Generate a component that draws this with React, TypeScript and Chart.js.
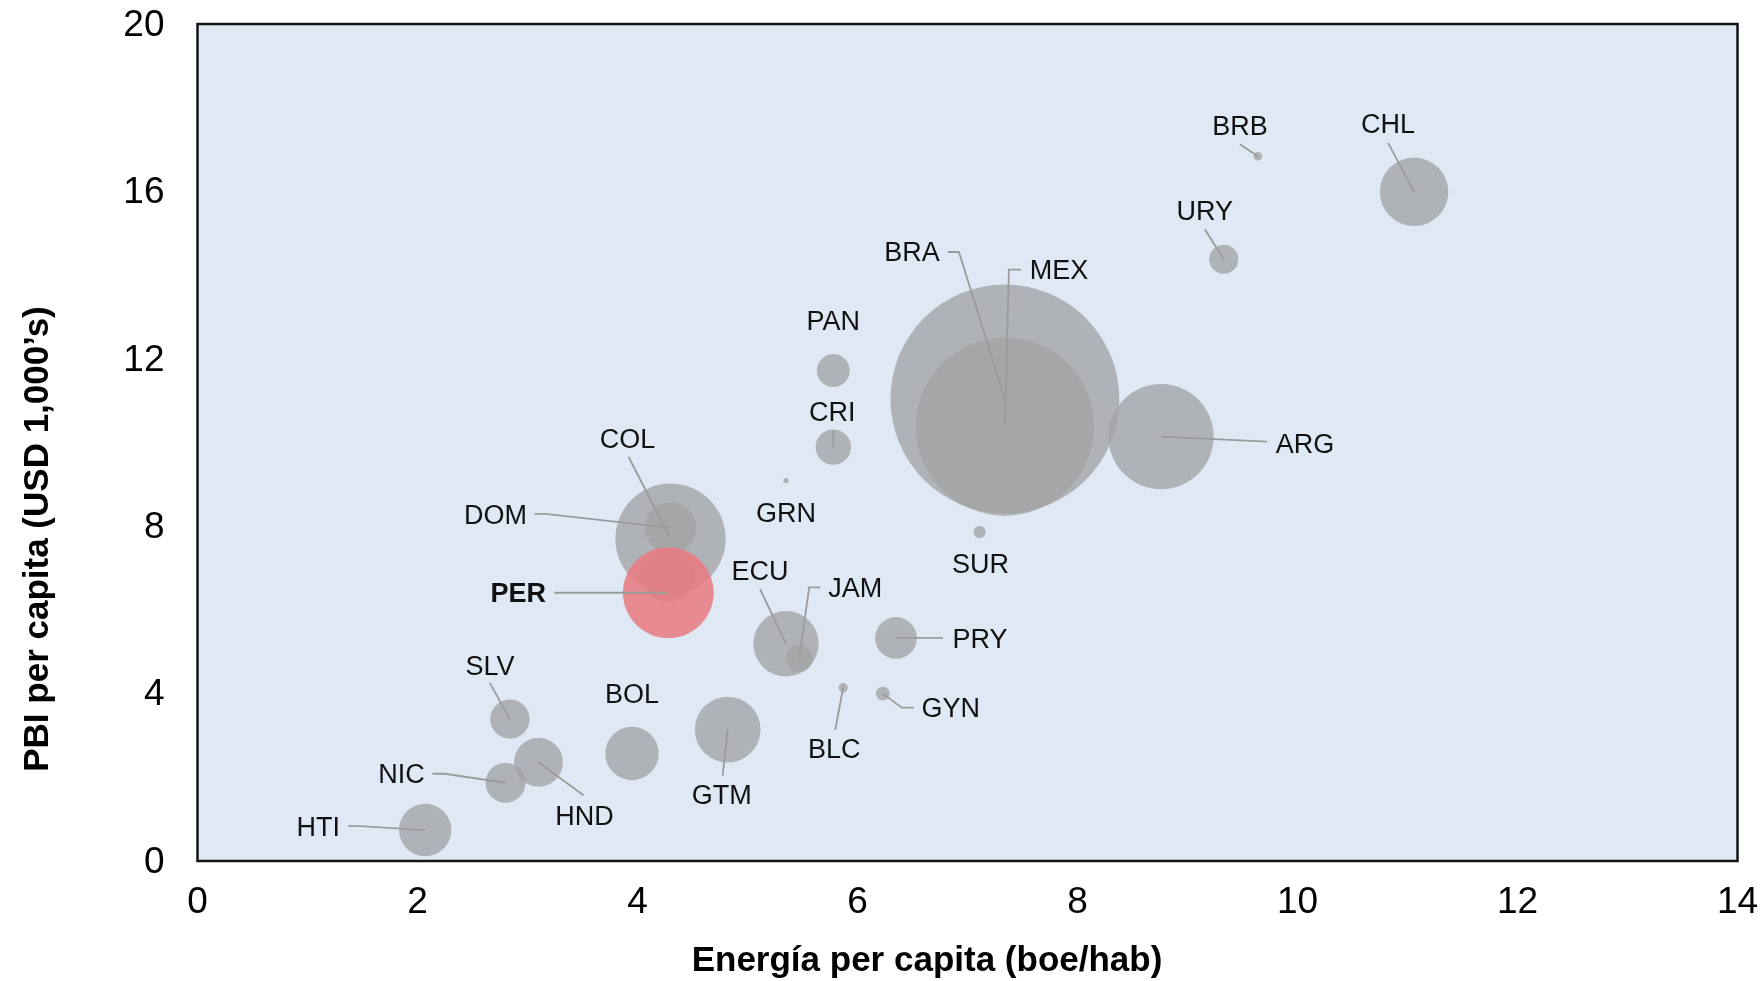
import React, { useEffect, useRef } from 'react';
import { Chart, registerables } from 'chart.js';

Chart.register(...registerables);

// ---- Data ----
const countries = ['BRA', 'MEX', 'ARG', 'COL', 'DOM', 'CUB', 'CHL', 'URY', 'BRB', 'PAN', 'CRI', 'GRN', 'SUR', 'ECU', 'JAM', 'PRY', 'BLC', 'GYN', 'GTM', 'BOL', 'SLV', 'HND', 'NIC', 'HTI', 'PER'];
const energyPerCapita = [7.34, 7.34, 8.76, 4.30, 4.30, 4.28, 11.06, 9.33, 9.64, 5.78, 5.78, 5.35, 7.11, 5.35, 5.47, 6.35, 5.87, 6.23, 4.82, 3.95, 2.84, 3.10, 2.80, 2.07, 4.28];
const gdpPerCapita = [11.04, 10.38, 10.14, 7.70, 7.96, 6.81, 15.99, 14.38, 16.84, 11.72, 9.89, 9.09, 7.86, 5.19, 4.84, 5.33, 4.14, 4.00, 3.14, 2.57, 3.39, 2.36, 1.87, 0.74, 6.41];
const populationMillions = [213, 129, 45, 49.5, 10.7, 11.2, 19.1, 3.45, 0.3, 4.4, 5.1, 0.11, 0.62, 17.4, 2.9, 7.1, 0.35, 0.79, 17.6, 11.6, 6.3, 9.7, 6.5, 11.2, 33.5];
const unlabeled = ['CUB'];
const highlighted = 'PER';
const xTickValues = [0, 2, 4, 6, 8, 10, 12, 14];
const yTickValues = [0, 4, 8, 12, 16, 20];
const xTitle = 'Energía per capita (boe/hab)';
const yTitle = 'PBI per capita (USD 1,000’s)';

// ---- Layout / style ----
const W = 1760;
const H = 981;
const RADIUS_PER_SQRT_MILLION = 7.84;
const FONT = "'Liberation Sans', Arial, Helvetica, sans-serif";
const PLOT_BG = '#dee9f5';
const GRAY = 'rgba(160,162,163,0.76)';
const PINK = 'rgba(233,122,128,0.86)';
const LEADER = '#9b9b9b';
const LABEL_SHIFT_Y = 2;

// label offsets (px, relative to bubble centre) and leader polylines
const labelLayout: Record<string, { at: [number, number]; path?: [number, number][] }> = {
  ARG: { at: [144, 7], path: [[106, 5], [0, 0]] },
  BLC: { at: [-9, 61], path: [[-8, 42], [0, 0]] },
  BOL: { at: [0, -60] },
  BRA: { at: [-93, -147], path: [[-57, -147], [-46, -147], [0, 0]] },
  BRB: { at: [-18, -31], path: [[-18, -12], [0, 0]] },
  CHL: { at: [-26, -68], path: [[-26, -49], [0, 0]] },
  COL: { at: [-43, -100], path: [[-42, -82], [0, 0]] },
  CRI: { at: [-1, -36], path: [[0, -17], [0, 0]] },
  DOM: { at: [-175, -13], path: [[-136, -14], [-125, -14], [0, 0]] },
  ECU: { at: [-26, -73], path: [[-26, -55], [0, 0]] },
  GRN: { at: [0, 32] },
  GTM: { at: [-6, 65], path: [[-5, 46], [0, 0]] },
  GYN: { at: [68, 14], path: [[31, 14], [19, 14], [0, 0]] },
  HND: { at: [46, 53], path: [[45, 33], [0, 0]] },
  HTI: { at: [-107, -3], path: [[-77, -4], [-65, -4], [0, 0]] },
  JAM: { at: [56, -71], path: [[21, -71], [10, -71], [0, 0]] },
  MEX: { at: [54, -157], path: [[16, -157], [4, -157], [0, 0]] },
  NIC: { at: [-104, -9], path: [[-73, -9], [-61, -9], [0, 0]] },
  PAN: { at: [0, -50] },
  PER: { at: [-150, 0], path: [[-114, 0], [0, 0]] },
  PRY: { at: [84, 1], path: [[47, 0], [0, 0]] },
  SLV: { at: [-20, -54], path: [[-20, -36], [0, 0]] },
  SUR: { at: [1, 31] },
  URY: { at: [-19, -49], path: [[-19, -30], [0, 0]] },
};

const radiusOf = (pop: number) => RADIUS_PER_SQRT_MILLION * Math.sqrt(pop);

const annotatePlugin = {
  id: 'annotate',
  beforeDatasetsDraw(chart: any) {
    const { ctx, chartArea: a } = chart;
    ctx.save();
    ctx.fillStyle = PLOT_BG;
    ctx.fillRect(a.left, a.top, a.right - a.left, a.bottom - a.top);
    ctx.restore();
  },
  afterDatasetsDraw(chart: any) {
    const { ctx, chartArea: a } = chart;
    const xs = chart.scales.x;
    const ys = chart.scales.y;
    ctx.save();
    // leader lines
    ctx.strokeStyle = LEADER;
    ctx.lineWidth = 1.8;
    countries.forEach((c, i) => {
      const lay = labelLayout[c];
      if (!lay || !lay.path) return;
      const cx = xs.getPixelForValue(energyPerCapita[i]);
      const cy = ys.getPixelForValue(gdpPerCapita[i]);
      ctx.beginPath();
      lay.path.forEach(([dx, dy], k) => {
        if (k === 0) ctx.moveTo(cx + dx, cy + dy);
        else ctx.lineTo(cx + dx, cy + dy);
      });
      ctx.stroke();
    });
    // labels
    ctx.fillStyle = '#111';
    ctx.textAlign = 'center';
    ctx.textBaseline = 'middle';
    countries.forEach((c, i) => {
      const lay = labelLayout[c];
      if (!lay || unlabeled.includes(c)) return;
      const cx = xs.getPixelForValue(energyPerCapita[i]);
      const cy = ys.getPixelForValue(gdpPerCapita[i]);
      ctx.font = `${c === highlighted ? 'bold ' : ''}27px ${FONT}`;
      ctx.fillText(c, cx + lay.at[0], cy + lay.at[1] + LABEL_SHIFT_Y);
    });
    // plot frame
    ctx.strokeStyle = '#151515';
    ctx.lineWidth = 2.5;
    ctx.strokeRect(a.left, a.top, a.right - a.left, a.bottom - a.top);
    // tick labels
    ctx.fillStyle = '#000';
    ctx.font = `37px ${FONT}`;
    ctx.textAlign = 'center';
    ctx.textBaseline = 'middle';
    xTickValues.forEach((v) => ctx.fillText(String(v), xs.getPixelForValue(v), a.bottom + 42));
    ctx.textAlign = 'right';
    yTickValues.forEach((v) => ctx.fillText(String(v), a.left - 33, ys.getPixelForValue(v) + 1.5));
    // axis titles
    ctx.font = `bold 35px ${FONT}`;
    ctx.textAlign = 'center';
    ctx.textBaseline = 'alphabetic';
    ctx.fillText(xTitle, 927, 971);
    ctx.translate(48, 539);
    ctx.rotate(-Math.PI / 2);
    ctx.fillText(yTitle, 0, 0);
    ctx.restore();
  },
};

export default function App() {
  const ref = useRef<HTMLCanvasElement | null>(null);

  useEffect(() => {
    const canvas = ref.current;
    if (!canvas) return;
    const idx = countries.map((_, i) => i);
    const others = idx.filter((i) => countries[i] !== highlighted);
    const hi = idx.filter((i) => countries[i] === highlighted);
    const toPoint = (i: number) => ({ x: energyPerCapita[i], y: gdpPerCapita[i], r: radiusOf(populationMillions[i]) });

    const chart = new Chart(canvas, {
      type: 'bubble',
      data: {
        datasets: [
          { label: highlighted, data: hi.map(toPoint), backgroundColor: PINK, borderWidth: 0, order: 0 },
          { label: 'Otros', data: others.map(toPoint), backgroundColor: GRAY, borderWidth: 0, order: 1 },
        ],
      },
      options: {
        responsive: false,
        animation: false,
        events: [],
        layout: { autoPadding: false, padding: { top: 24, right: 22.5, left: 197.5, bottom: 120 } },
        plugins: { legend: { display: false }, tooltip: { enabled: false } },
        scales: {
          x: { type: 'linear', min: 0, max: 14, display: false },
          y: { type: 'linear', min: 0, max: 20, display: false },
        },
      },
      plugins: [annotatePlugin],
    });
    return () => chart.destroy();
  }, []);

  return (
    <div style={{ position: 'fixed', left: 0, top: 0, width: W, height: H, background: '#fff' }}>
      <canvas ref={ref} width={W} height={H} style={{ display: 'block', width: W, height: H }} />
    </div>
  );
}
